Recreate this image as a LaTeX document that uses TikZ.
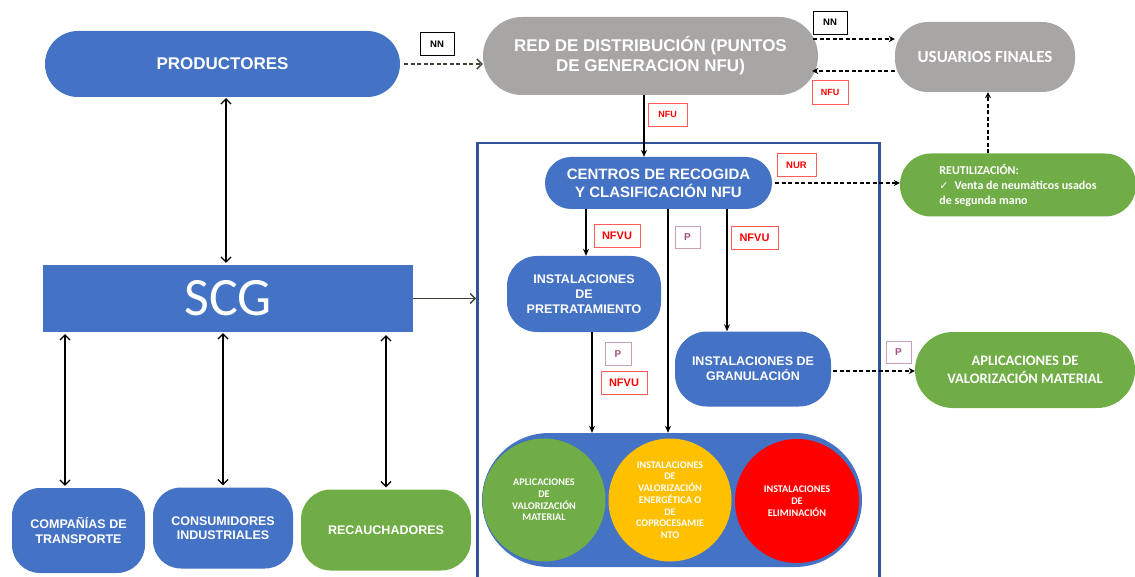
\documentclass[tikz,border=0pt]{standalone}
\usepackage{fontspec}
\setmainfont{Liberation Sans}
\newfontfamily\calib{Carlito}
\newfontfamily\dejavu{DejaVu Sans}
\usetikzlibrary{arrows.meta,calc}
\definecolor{oblue}{HTML}{4472C4}
\definecolor{ogreen}{HTML}{70AD47}
\definecolor{ogray}{HTML}{A8A5A5}
\definecolor{oyellow}{HTML}{FFC000}
\definecolor{ored}{HTML}{FF0000}
\definecolor{frameblue}{HTML}{2F5597}
\definecolor{lred}{HTML}{FF5A5A}
\definecolor{pborder}{HTML}{C8A0B8}
\definecolor{ptext}{HTML}{A0527F}
\definecolor{olive}{HTML}{3B4535}
\begin{document}
\begin{tikzpicture}[x=1pt,y=-1pt,
  shp/.style={inner sep=0pt, align=center, text=white},
  lab/.style={draw=black, line width=0.9pt, fill=white, inner sep=0pt, font=\bfseries\fontsize{9.5}{10}\selectfont},
  rlab/.style={lab, draw=lred, text=ored},
  plab/.style={lab, draw=pborder, text=ptext, font=\bfseries\fontsize{10}{10}\selectfont},
  sol/.style={line width=1.3pt, -{Stealth[length=7pt,width=6pt]}},
  dshf/.style={line width=1.3pt, dash pattern=on 4pt off 2.5pt, -{Stealth[length=6pt,width=6pt]}},
  dsho/.style={line width=1.3pt, olive, dash pattern=on 4pt off 2.5pt, -{Straight Barb[length=5pt,width=10pt]}},
  dbl/.style={line width=1.2pt, {Straight Barb[length=5pt,width=10pt]}-{Straight Barb[length=5pt,width=10pt]}},
  solo/.style={line width=1.3pt, olive, -{Straight Barb[length=5pt,width=10pt]}},
  bigf/.style={font=\bfseries\fontsize{12.5}{15}\selectfont},
  botf/.style={font=\bfseries\fontsize{12.5}{14.5}\selectfont},
  circf/.style={font=\calib\bfseries\fontsize{10.2}{11.7}\selectfont}
]
\useasboundingbox (0,0) rectangle (1135,577);
\clip (0,0) rectangle (1135,577);

% frame
\node[draw=frameblue, line width=2.5pt, minimum width=402, minimum height=470, inner sep=0pt, anchor=north west] (frame) at (476,142) {};

% top row
\node[shp, fill=oblue, minimum width=355, minimum height=66, rounded corners=33, font=\bfseries\fontsize{17}{20}\selectfont] (prod) at (222.5,64) {PRODUCTORES};
\node[shp, fill=ogray, minimum width=335, minimum height=78, rounded corners=39, font=\bfseries\fontsize{17}{20}\selectfont] (red) at (650.5,56) {RED DE DISTRIBUCIÓN (PUNTOS\\DE GENERACION NFU)};
\node[shp, fill=ogray, minimum width=180, minimum height=70, rounded corners=33, font=\calib\bfseries\fontsize{17}{20}\selectfont] (usu) at (985,57) {USUARIOS FINALES};

% SCG and partners
\node[shp, fill=oblue, minimum width=370, minimum height=67, font=\calib\fontsize{54}{60}\selectfont] (scg) at (228,298.5) {SCG};
\node[shp, fill=oblue, minimum width=133, minimum height=85, rounded corners=28, botf] (comp) at (78.5,530.5) {COMPAÑÍAS DE\\TRANSPORTE};
\node[shp, fill=oblue, minimum width=140, minimum height=81, rounded corners=28, botf] (cons) at (223,528) {CONSUMIDORES\\INDUSTRIALES};
\node[shp, fill=ogreen, minimum width=170, minimum height=81, rounded corners=30, botf] (rec) at (386,530) {RECAUCHADORES};

% inside frame
\node[shp, fill=oblue, minimum width=227, minimum height=52, rounded corners=26, font=\bfseries\fontsize{15}{18}\selectfont] (cen) at (658.5,183) {CENTROS DE RECOGIDA\\Y CLASIFICACIÓN NFU};
\node[shp, fill=oblue, minimum width=154, minimum height=76, rounded corners=30, bigf] (pre) at (584,294) {INSTALACIONES\\DE\\PRETRATAMIENTO};
\node[shp, fill=oblue, minimum width=156, minimum height=75, rounded corners=32, bigf] (gran) at (753,369) {INSTALACIONES DE\\GRANULACIÓN};
\node[shp, fill=oblue, minimum width=380, minimum height=134, rounded corners=67] (bowl) at (672,500) {};
\node[shp, circle, fill=ogreen, minimum size=123, circf] (c1) at (544,500) {APLICACIONES\\DE\\VALORIZACIÓN\\MATERIAL};
\node[shp, circle, fill=oyellow, minimum size=123, circf] (c2) at (670,500) {INSTALACIONES\\DE\\VALORIZACIÓN\\ENERGÉTICA O\\DE\\COPROCESAMIE\\NTO};
\node[shp, circle, fill=ored, minimum size=124, circf] (c3) at (797,501) {INSTALACIONES\\DE\\ELIMINACIÓN};

% right side
\node[shp, fill=ogreen, minimum width=236, minimum height=63, rounded corners=31, align=left, font=\calib\bfseries\fontsize{12}{15}\selectfont] (reu) at (1018,185) {REUTILIZACIÓN:\\{\dejavu\fontsize{11}{15}\selectfont ✓}\enspace Venta de neumáticos usados\\de segunda mano};
\node[shp, fill=ogreen, minimum width=220, minimum height=76, rounded corners=38, font=\calib\bfseries\fontsize{14.5}{17.7}\selectfont] (apl) at (1025,370) {APLICACIONES DE\\VALORIZACIÓN MATERIAL};

% labels
\node[lab, minimum width=34, minimum height=23] (nn1) at (437,44) {NN};
\node[lab, minimum width=34, minimum height=23] (nn2) at (830,22.5) {NN};
\node[rlab, font=\bfseries\fontsize{9}{9}\selectfont, minimum width=36, minimum height=24] (nfu1) at (830,92) {NFU};
\node[rlab, font=\bfseries\fontsize{9}{9}\selectfont, minimum width=39, minimum height=23] (nfu2) at (667.5,114.5) {NFU};
\node[rlab, minimum width=39, minimum height=23] (nur) at (796.5,165) {NUR};
\node[rlab, font=\bfseries\fontsize{11}{11}\selectfont, minimum width=46, minimum height=23] (nfvu1) at (617,236) {NFVU};
\node[plab, minimum width=25, minimum height=22] (p1) at (687.5,237) {P};
\node[rlab, font=\bfseries\fontsize{11}{11}\selectfont, minimum width=47, minimum height=23] (nfvu2) at (754.5,238) {NFVU};
\node[plab, minimum width=26, minimum height=23] (p2) at (618,354) {P};
\node[rlab, font=\bfseries\fontsize{11}{11}\selectfont, minimum width=46, minimum height=23] (nfvu3) at (624,383) {NFVU};
\node[plab, minimum width=25, minimum height=22] (p3) at (898.5,352) {P};

% connectors
\draw[dsho] ([xshift=4pt]prod.east) coordinate (p0) -- (p0 -| red.west);
\draw[dshf] ([xshift=-5pt,yshift=17pt]red.east) coordinate (r1) -- (r1 -| usu.west);
\draw[dshf] ([yshift=-14pt]usu.west) coordinate (u1) -- ($(u1 -| red.east)+(-6,0)$);
\draw[sol] ([xshift=-6.5pt]red.south) coordinate (r2) -- (r2 |- cen.north);
\draw[dshf] ([xshift=3pt]cen.east) -- (cen.east -| reu.west);
\path ([xshift=3pt]usu.south) coordinate (u2);
\draw[dshf] (u2 |- reu.north) -- (u2);
\path ([xshift=2pt]pre.north) coordinate (q1);
\draw[sol] (q1 |- cen.south) -- (q1);
\draw[sol] ([xshift=9.5pt]cen.south) coordinate (cc) -- (cc |- bowl.north);
\path ([xshift=-26pt]gran.north) coordinate (g1);
\draw[sol] (g1 |- cen.south) -- (g1);
\draw[sol] ([xshift=8pt]pre.south) coordinate (q2) -- (q2 |- bowl.north);
\draw[dshf] ([xshift=2pt,yshift=-2pt]gran.east) coordinate (g2) -- (g2 -| apl.west);
\draw[solo] (scg.east) -- (scg.east -| frame.west);

\draw[dbl, shorten <=1pt, shorten >=2pt] ([xshift=3.5pt]prod.south) coordinate (d1) -- (d1 |- scg.north);
\path ([xshift=-13.5pt]comp.north) coordinate (d2);
\draw[dbl, shorten <=2pt, shorten >=2pt] (d2 |- scg.south) -- (d2);
\draw[dbl, shorten <=1pt, shorten >=2pt] (cons.north |- scg.south) -- (cons.north);
\draw[dbl, shorten <=3pt, shorten >=2pt] (rec.north |- scg.south) -- (rec.north);
\end{tikzpicture}
\end{document}
